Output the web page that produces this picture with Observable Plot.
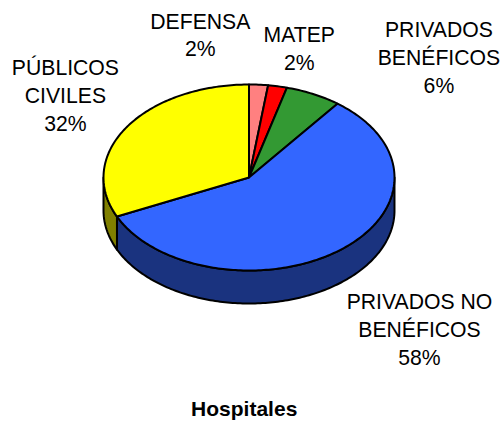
<!DOCTYPE html>
<html>
<head>
<meta charset="utf-8">
<script src="https://cdn.jsdelivr.net/npm/d3@7"></script>
<script src="https://cdn.jsdelivr.net/npm/@observablehq/plot@0.6"></script>
<style>html,body{margin:0;padding:0;background:#fff}</style>
</head>
<body>
<div id="chart"></div>
<script>
// Data
const labels = ["DEFENSA", "MATEP", "PRIVADOS\nBENÉFICOS", "PRIVADOS NO\nBENÉFICOS", "PÚBLICOS\nCIVILES"];
const values = [2.1, 2.1, 6.2, 57.7, 31.9];
const topColors = ["#FF8080", "#FF0000", "#339933", "#3366FF", "#FFFF00"];
const sideColors = ["#804040", "#800000", "#1A4D1A", "#1A337F", "#808000"];
const chartTitle = "Hospitales";

// Layout of the tilted disc
const W = 503, H = 422;
const cx = 248.5, cy = 177, rx = 145.5, ry = 93, depth = 33;
const labelOffsets = [[-58.3, -51], [21.6, -39], [125.5, -38], [79.5, 78], [-61, -33.5]];

const rad = d => d * Math.PI / 180;
const rim = (deg, drop = 0) => ({px: cx + rx * Math.sin(rad(deg)), py: cy - ry * Math.cos(rad(deg)) + drop});
const arc = (a0, a1) => d3.range(0, Math.max(1, Math.ceil(a1 - a0)) + 1).map(i => a0 + (a1 - a0) * i / Math.max(1, Math.ceil(a1 - a0)));

const total = d3.sum(values);
let running = 0;
const slices = values.map((v, i) => {
  const a0 = running / total * 360;
  running += v;
  const a1 = running / total * 360;
  return {i, a0, a1, mid: (a0 + a1) / 2, pct: Math.round(v / total * 100)};
});

const topPts = [], sidePts = [];
for (const s of slices) {
  const ring = [{px: cx, py: cy}, ...arc(s.a0, s.a1).map(a => rim(a)), {px: cx, py: cy}];
  ring.forEach(p => topPts.push({...p, id: s.i, fill: topColors[s.i]}));
  const lo = Math.max(s.a0, 90), hi = Math.min(s.a1, 270);
  if (hi > lo) {
    const front = arc(lo, hi);
    const wall = [...front.map(a => rim(a)), ...front.slice().reverse().map(a => rim(a, depth))];
    wall.push(wall[0]);
    wall.forEach(p => sidePts.push({...p, id: s.i, fill: sideColors[s.i]}));
  }
}

const textStyle = {fontFamily: "Arial, 'Liberation Sans', sans-serif", fill: "#000"};

const plot = Plot.plot({
  width: W, height: H,
  margin: 0,
  x: {domain: [0, W], range: [0, W], axis: null},
  y: {domain: [0, H], range: [0, H], axis: null},
  marks: [
    Plot.line(sidePts, {x: "px", y: "py", z: "id", fill: "fill", stroke: "#000", strokeWidth: 2, curve: "linear"}),
    Plot.line(topPts, {x: "px", y: "py", z: "id", fill: "fill", stroke: "#000", strokeWidth: 2, curve: "linear"}),
    ...slices.map(s => {
      const p = rim(s.mid);
      return Plot.text([s], {
        x: () => p.px, y: () => p.py,
        text: d => `${labels[d.i]}\n${d.pct}%`,
        dx: labelOffsets[s.i][0], dy: labelOffsets[s.i][1],
        fontSize: 21.2, lineHeight: 1.31, textAnchor: "middle", ...textStyle
      });
    }),
    Plot.text([chartTitle], {frameAnchor: "bottom", dx: -7.8, dy: -7, text: d => d, fontWeight: "bold", fontSize: 21, ...textStyle})
  ]
});
document.getElementById("chart").appendChild(plot);
</script>
</body>
</html>
